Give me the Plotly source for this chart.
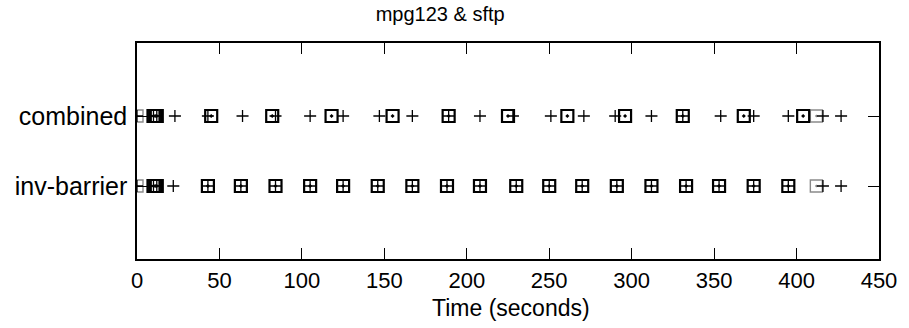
import plotly.graph_objects as go

# y positions of the two rows
row_labels = ["inv-barrier", "combined"]
row_pos = [1, 2]

# combined row (y = 2)
comb_plus = [0, 10, 12, 23, 43, 64, 84, 105, 125, 147, 167, 189, 208, 228, 251, 271, 290, 312, 331, 354, 374, 395, 416, 427]
comb_sq = [10, 11, 12, 45, 82, 118, 155, 189, 225, 261, 296, 331, 368, 404]
comb_sq_gray = [0, 412]

# inv-barrier row (y = 1)
inv_plus = [0, 10, 12, 22, 43, 63, 84, 105, 125, 146, 167, 188, 208, 230, 250, 270, 291, 312, 333, 353, 374, 395, 416, 427]
inv_sq = [10, 11, 12, 43, 63, 84, 105, 125, 146, 167, 188, 208, 230, 250, 270, 291, 312, 333, 353, 374, 395]
inv_sq_gray = [0, 412]

x_ticks = [0, 50, 100, 150, 200, 250, 300, 350, 400, 450]

FONT = "Liberation Sans"

fig = go.Figure()

def add_row(xs_plus, xs_sq, xs_gray, y):
    fig.add_trace(go.Scatter(
        x=xs_gray, y=[y] * len(xs_gray), mode="markers",
        marker=dict(symbol="square-open-dot", size=12, color="#8a8a8a",
                    line=dict(width=1.4, color="#8a8a8a")),
        showlegend=False, hoverinfo="skip"))
    fig.add_trace(go.Scatter(
        x=xs_sq, y=[y] * len(xs_sq), mode="markers",
        marker=dict(symbol="square-open-dot", size=12, color="black",
                    line=dict(width=2.2, color="black")),
        showlegend=False, hoverinfo="skip"))
    fig.add_trace(go.Scatter(
        x=xs_plus, y=[y] * len(xs_plus), mode="markers",
        marker=dict(symbol="cross-thin-open", size=8.6, color="black",
                    line=dict(width=1.3, color="black")),
        showlegend=False, hoverinfo="skip"))

add_row(comb_plus, comb_sq, comb_sq_gray, row_pos[1])
add_row(inv_plus, inv_sq, inv_sq_gray, row_pos[0])

fig.update_layout(
    width=909, height=328,
    margin=dict(l=137, r=28, t=43, b=69),
    paper_bgcolor="white", plot_bgcolor="white",
    font=dict(family=FONT, size=22, color="black"),
    title=dict(text="mpg123 & sftp", x=(441 - 137) / 744, xref="paper",
               xanchor="center", y=1 - 14 / 328, yanchor="middle",
               font=dict(family=FONT, size=20, color="black")),
    showlegend=False,
    annotations=[dict(text="Time (seconds)", x=(512 - 137) / 744, xref="paper", y=(259 - 308) / 216,
                      yref="paper", xanchor="center", yanchor="middle", showarrow=False,
                      font=dict(family=FONT, size=23, color="black"))],
)

fig.update_xaxes(range=[0, 450], tickvals=x_ticks, ticktext=[str(v) for v in x_ticks],
                 ticks="inside", ticklen=11, tickwidth=1.2, tickcolor="black",
                 showline=True, linecolor="black", linewidth=1.5, mirror="all",
                 showgrid=False, zeroline=False, ticklabelstandoff=1,
                 tickfont=dict(family=FONT, size=22, color="black"))
fig.update_yaxes(range=[1 - 73 / 70, 2 + 73 / 70], tickvals=row_pos, ticktext=row_labels,
                 ticks="inside", ticklen=11, tickwidth=1.2, tickcolor="black",
                 showline=True, linecolor="black", linewidth=1.5, mirror="all",
                 showgrid=False, zeroline=False, ticklabelstandoff=3,
                 tickfont=dict(family=FONT, size=25, color="black"))

fig.write_html("out.html")
